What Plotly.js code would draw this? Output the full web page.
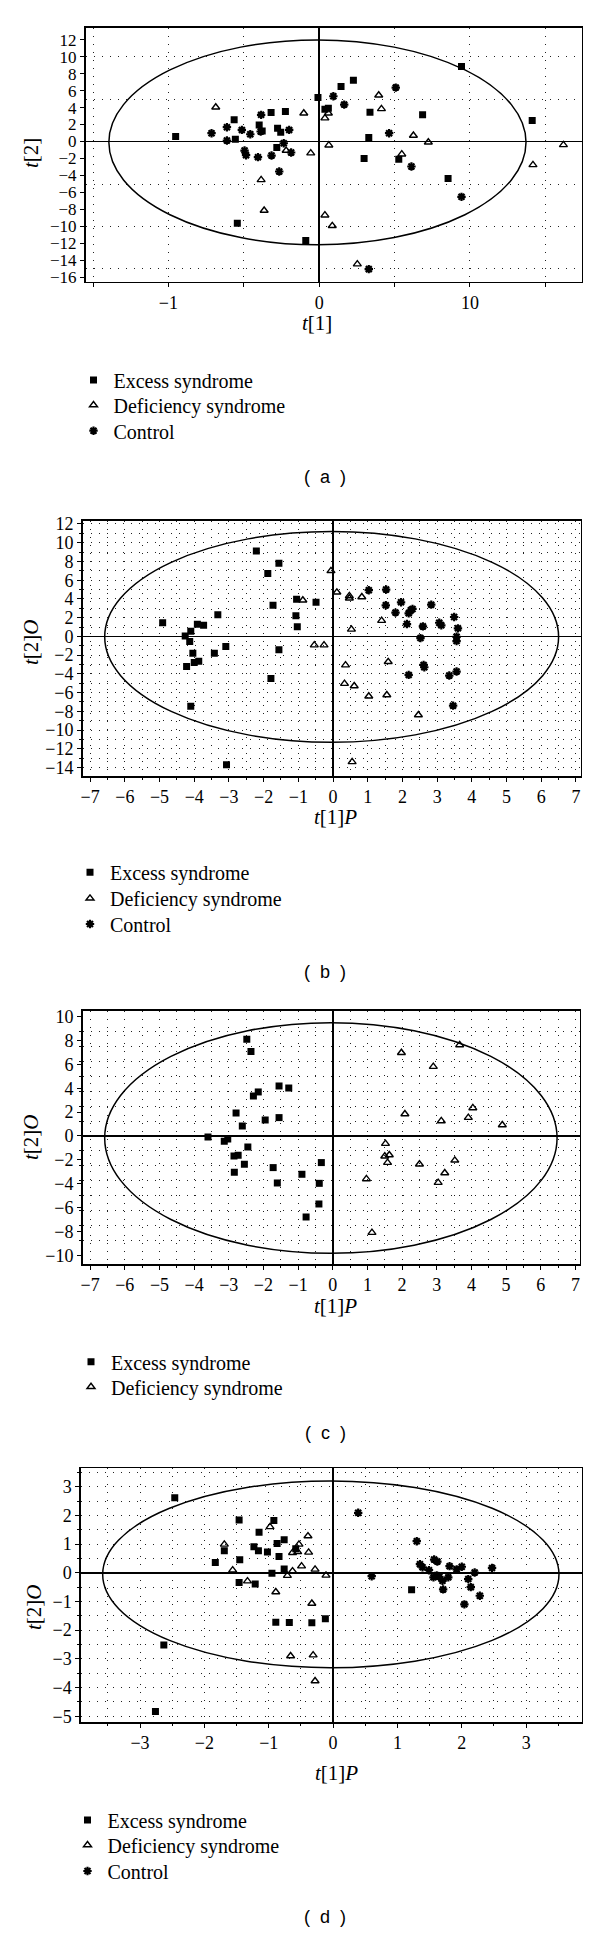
<!DOCTYPE html>
<html>
<head>
<meta charset="utf-8">
<script src="https://cdn.plot.ly/plotly-3.0.1.min.js"></script>
<style>
html,body{margin:0;padding:0;background:#fff;}
#chart{width:600px;height:1933px;}
</style>
</head>
<body>
<div id="chart"></div>
<script>
// ---------- Data: panel (a) ----------
const aExcessX = [-9.52,-5.64,-5.56,-5.43,-3.98,-3.78,-3.19,-2.76,-2.81,-2.55,-2.24,-0.89,-0.08,0.38,0.61,1.45,2.27,3.37,3.29,2.98,5.28,6.86,8.55,9.44,14.13];
const aExcessY = [0.59,2.55,0.27,-9.61,1.96,1.25,3.41,1.57,-0.71,1.1,3.53,-11.65,5.18,3.8,3.92,6.47,7.22,3.45,0.47,-2.0,-2.08,3.14,-4.35,8.82,2.47];
const aDefX = [-6.86,-1.02,0.38,0.61,3.95,4.13,6.25,7.24,0.64,-2.19,-0.56,5.48,-3.85,-3.65,0.38,0.87,2.53,14.18,16.2];
const aDefY = [4.04,3.33,2.75,3.33,5.45,3.84,0.71,-0.08,-0.43,-1.06,-1.37,-1.49,-4.51,-8.12,-8.67,-9.92,-14.43,-2.75,-0.39];
const aCtrlX = [-7.14,-6.12,-6.12,-5.13,-4.57,-3.85,-3.88,-1.99,-2.35,-1.86,-4.95,-4.85,-4.06,-3.16,-2.65,0.94,1.66,5.08,4.64,6.12,9.44,3.29];
const aCtrlY = [0.98,1.69,0.12,1.37,0.86,3.14,1.18,1.37,-0.2,-1.29,-1.06,-1.61,-1.84,-1.65,-3.53,5.33,4.35,6.35,0.98,-2.94,-6.51,-15.02];
const aXTickVals = [-15,-10,-5,0,5,10,15];
const aXTickText = ["","\u22121","","0","","10",""];
const ellipseA = [-13.95, 13.72, -12.15, 11.96];

// ---------- Data: panel (b) ----------
const bExcessX = [-4.91,-4.26,-4.1,-4.13,-3.91,-3.73,-4.04,-4.0,-3.87,-4.22,-3.42,-3.32,-3.09,-4.1,-3.07,-2.21,-1.88,-1.56,-1.73,-1.05,-1.07,-1.03,-0.49,-1.56,-1.79];
const bExcessY = [1.46,0.04,0.54,-0.54,1.29,1.18,-1.79,-2.79,-2.64,-3.21,-1.79,2.32,-1.07,-7.46,-13.71,9.11,6.71,7.82,3.32,3.96,2.21,1.04,3.64,-1.43,-4.5];
const bDefX = [-0.87,-0.06,0.11,0.47,0.47,0.83,1.4,0.53,-0.54,-0.26,0.36,0.33,0.61,1.59,1.03,1.55,2.46,0.55];
const bDefY = [3.86,7.0,4.71,4.32,4.07,4.21,1.68,0.75,-0.93,-0.93,-3.07,-5.04,-5.29,-2.71,-6.39,-6.25,-8.39,-13.39];
const bCtrlX = [1.03,1.53,1.52,1.96,1.8,2.18,2.24,2.29,2.83,2.13,2.59,3.06,3.12,3.49,3.6,2.52,3.56,3.56,2.18,2.61,2.63,3.35,3.56,3.46];
const bCtrlY = [4.93,5.0,3.32,3.64,2.54,2.46,2.79,2.93,3.39,1.32,1.07,1.46,1.18,2.07,0.86,-0.18,-0.04,-0.5,-4.11,-3.04,-3.29,-4.18,-3.75,-7.39];
const ellipseB = [-6.58, 6.5, -11.3, 11.2];

// ---------- Data: panel (c) ----------
const cExcessX = [-2.48,-2.36,-1.55,-1.27,-2.15,-2.29,-2.79,-1.95,-1.55,-2.61,-3.6,-3.03,-3.13,-2.45,-2.85,-2.73,-2.55,-2.84,-1.72,-1.6,-0.89,-0.33,-0.39,-0.4,-0.77];
const cExcessY = [8.1,7.09,4.19,4.02,3.69,3.35,1.93,1.34,1.54,0.84,-0.08,-0.25,-0.45,-0.92,-1.68,-1.62,-2.37,-3.04,-2.65,-3.94,-3.21,-2.23,-3.97,-5.7,-6.79];
const cDefX = [3.66,1.98,2.9,4.04,2.08,3.91,3.13,4.89,1.52,1.5,1.63,1.58,2.5,3.52,3.23,3.04,0.97,1.13];
const cDefY = [7.63,6.98,5.81,2.35,1.84,1.54,1.26,0.92,-0.64,-1.7,-1.59,-2.23,-2.37,-2.04,-3.1,-3.91,-3.6,-8.1];
const ellipseC = [-6.58, 6.47, -9.83, 9.5];

// ---------- Data: panel (d) ----------
const dExcessX = [-2.46,-1.46,-0.92,-1.15,-0.87,-0.76,-1.23,-1.16,-1.02,-0.84,-0.58,-1.69,-1.83,-1.45,-0.76,-0.95,-1.46,-1.21,-0.89,-0.68,-0.33,-0.12,-2.63,-2.76,1.22];
const dExcessY = [2.61,1.84,1.82,1.41,1.02,1.15,0.91,0.77,0.72,0.57,0.84,0.77,0.36,0.45,0.13,-0.02,-0.34,-0.39,-1.72,-1.73,-1.74,-1.6,-2.52,-4.83,-0.59];
const dDefX = [-1.69,-1.56,-1.33,-0.98,-0.63,-0.53,-0.39,-0.55,-0.38,-0.49,-0.63,-0.28,-0.71,-0.11,-0.89,-0.33,-0.66,-0.31,-0.28];
const dDefY = [0.99,0.09,-0.29,1.6,0.7,0.99,1.28,0.73,0.71,0.23,0.06,0.12,-0.1,-0.09,-0.67,-1.07,-2.9,-2.87,-3.77];
const dCtrlX = [0.39,0.6,1.3,1.35,1.39,1.49,1.57,1.62,1.56,1.61,1.65,1.7,1.71,1.79,1.81,1.92,2.0,2.1,2.14,2.2,2.04,2.28,2.47];
const dCtrlY = [2.09,-0.12,1.1,0.3,0.19,0.09,0.46,0.39,-0.16,-0.09,-0.14,-0.28,-0.58,-0.16,0.23,0.12,0.21,-0.22,-0.5,0.01,-1.1,-0.8,0.17];
const ellipseD = [-3.58, 3.51, -3.31, 3.2];

const seriesNames = ["Excess syndrome","Deficiency syndrome","Control"];
const panelLabels = ["(\u00a0\u00a0a\u00a0\u00a0)","(\u00a0\u00a0b\u00a0\u00a0)","(\u00a0\u00a0c\u00a0\u00a0)","(\u00a0\u00a0d\u00a0\u00a0)"];

// ---------- Layout helpers ----------
const W = 600, H = 1933;
const py = p => 1 - p / H;
const px = p => p / W;
const SERIF = "Liberation Serif, Times New Roman, serif";
const SANS = "Liberation Sans, Arial, sans-serif";
const GRIDDASH = "1px,7px";
const GRIDCOLOR = "#222";

const styles = {
  excess: {symbol:"square", size:7, color:"#000", line:{width:0}},
  def: {symbol:"triangle-up-open", size:7, color:"#000", line:{width:1.4, color:"#000"}},
  ctrl: {symbol:"asterisk-open", size:7, color:"#000", line:{width:2.2, color:"#000"}}
};

function tr(x, y, name, style, ax, leg) {
  return {type:"scatter", mode:"markers", x:x, y:y, name:name,
    xaxis:"x"+ax, yaxis:"y"+ax, legend:leg, marker:style, hoverinfo:"skip", cliponaxis:true};
}

const data = [
  tr(aExcessX, aExcessY, seriesNames[0], styles.excess, "", "legend"),
  tr(aDefX, aDefY, seriesNames[1], styles.def, "", "legend2"),
  tr(aCtrlX, aCtrlY, seriesNames[2], styles.ctrl, "", "legend3"),
  tr(bExcessX, bExcessY, seriesNames[0], styles.excess, "2", "legend4"),
  tr(bDefX, bDefY, seriesNames[1], styles.def, "2", "legend5"),
  tr(bCtrlX, bCtrlY, seriesNames[2], styles.ctrl, "2", "legend6"),
  tr(cExcessX, cExcessY, seriesNames[0], styles.excess, "3", "legend7"),
  tr(cDefX, cDefY, seriesNames[1], styles.def, "3", "legend8"),
  tr(dExcessX, dExcessY, seriesNames[0], styles.excess, "4", "legend9"),
  tr(dDefX, dDefY, seriesNames[1], styles.def, "4", "legend10"),
  tr(dCtrlX, dCtrlY, seriesNames[2], styles.ctrl, "4", "legend11")
];

function axis(extra) {
  return Object.assign({
    showline:true, mirror:true, linecolor:"#000", linewidth:1.5,
    ticks:"outside", ticklen:4, tickcolor:"#000", tickwidth:1,
    tickfont:{family:SERIF, size:18, color:"#000"},
    zeroline:true, zerolinecolor:"#000", zerolinewidth:1.6,
    showgrid:true, gridcolor:GRIDCOLOR, griddash:GRIDDASH, gridwidth:1,
    fixedrange:true, automargin:false, layer:"below traces"
  }, extra);
}
function minor(extra) {
  return Object.assign({showgrid:true, gridcolor:GRIDCOLOR, griddash:GRIDDASH, gridwidth:1, ticks:"outside", ticklen:2, tickcolor:"#000"}, extra);
}

// single-item legends, placed at each entry's centre
function legend(xpx, cpx) {
  return {x:px(xpx), y:py(cpx), xanchor:"left", yanchor:"middle", orientation:"v",
    font:{family:SERIF, size:20, color:"#000"}, bgcolor:"rgba(0,0,0,0)", borderwidth:0,
    tracegroupgap:0, itemclick:false, itemdoubleclick:false};
}

function ell(e, ax) {
  return {type:"circle", xref:"x"+ax, yref:"y"+ax, x0:e[0], x1:e[1], y0:e[2], y1:e[3],
    line:{color:"#000", width:1.5}, layer:"above"};
}

function ann(text, xp, yp, size, family, angle) {
  return {text:text, x:px(xp), y:py(yp), xref:"paper", yref:"paper", showarrow:false,
    xanchor:"center", yanchor:"middle", textangle:angle||0,
    font:{family:family, size:size, color:"#000"}};
}

const layout = {
  width:W, height:H, margin:{l:0,r:0,t:0,b:0},
  paper_bgcolor:"#fff", plot_bgcolor:"#fff", showlegend:true,
  // (a)
  xaxis: axis({domain:[px(85.5), px(581.5)], range:[-15.5,17.4], anchor:"y",
    tickmode:"array", tickvals:aXTickVals, ticktext:aXTickText}),
  yaxis: axis({domain:[py(281.7), py(27.7)], range:[-16.5,13.4], anchor:"x",
    tickmode:"linear", tick0:0, dtick:2, showgrid:false, tickfont:{family:SERIF, size:17, color:"#000"},
    minor:minor({tickmode:"array", tickvals:[-15,-10,-5,5,10], ticks:""})}),
  // (b)
  xaxis2: axis({domain:[px(82.5), px(580.8)], range:[-7.22,7.14], anchor:"y2",
    tickmode:"linear", tick0:0, dtick:1, minor:minor({dtick:0.5})}),
  yaxis2: axis({domain:[py(776), py(520.7)], range:[-14.9,12.35], anchor:"x2",
    tickmode:"linear", tick0:0, dtick:2, minor:minor({dtick:1})}),
  // (c)
  xaxis3: axis({domain:[px(82.5), px(579.6)], range:[-7.22,7.12], anchor:"y3",
    tickmode:"linear", tick0:0, dtick:1, minor:minor({dtick:0.5})}),
  yaxis3: axis({domain:[py(1264), py(1010.7)], range:[-10.73,10.5], anchor:"x3",
    tickmode:"linear", tick0:0, dtick:2, showgrid:false, minor:minor({tick0:0, dtick:1.25})}),
  // (d)
  xaxis4: axis({domain:[px(80.8), px(581.5)], range:[-3.92,3.86], anchor:"y4",
    tickmode:"linear", tick0:0, dtick:1, minor:minor({dtick:0.5})}),
  yaxis4: axis({domain:[py(1722.3), py(1468.3)], range:[-5.21,3.64], anchor:"x4",
    tickmode:"linear", tick0:0, dtick:1, minor:minor({dtick:0.5})}),
  legend: legend(73.5, 380),
  legend2: legend(73.5, 405),
  legend3: legend(73.5, 430.7),
  legend4: legend(70, 872.3),
  legend5: legend(70, 898.3),
  legend6: legend(70, 924),
  legend7: legend(71, 1361.7),
  legend8: legend(71, 1386.7),
  legend9: legend(67.5, 1820),
  legend10: legend(67.5, 1845),
  legend11: legend(67.5, 1871),
  shapes: [ell(ellipseA,""), ell(ellipseB,"2"), ell(ellipseC,"3"), ell(ellipseD,"4")],
  annotations: [
    ann("<i>t</i>[2]", 31, 153, 21, SERIF, -90),
    ann("<i>t</i>[1]", 317, 323, 21, SERIF, 0),
    ann(panelLabels[0], 325, 477, 18, SANS, 0),
    ann("<i>t</i>[2]<i>O</i>", 31, 642, 21, SERIF, -90),
    ann("<i>t</i>[1]<i>P</i>", 335, 817, 21, SERIF, 0),
    ann(panelLabels[1], 325, 972, 18, SANS, 0),
    ann("<i>t</i>[2]<i>O</i>", 31, 1137, 21, SERIF, -90),
    ann("<i>t</i>[1]<i>P</i>", 335, 1306, 21, SERIF, 0),
    ann(panelLabels[2], 325, 1433, 18, SANS, 0),
    ann("<i>t</i>[2]<i>O</i>", 34, 1607, 21, SERIF, -90),
    ann("<i>t</i>[1]<i>P</i>", 336, 1773, 21, SERIF, 0),
    ann(panelLabels[3], 325, 1917, 18, SANS, 0)
  ]
};

Plotly.newPlot("chart", data, layout, {displayModeBar:false, staticPlot:true, responsive:false});
</script>
</body>
</html>
